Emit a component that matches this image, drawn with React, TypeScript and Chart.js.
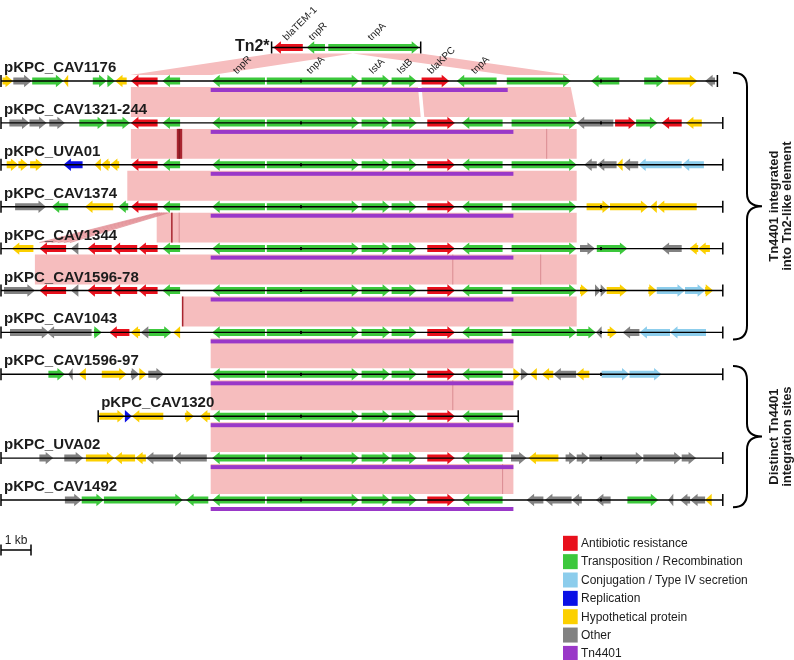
import React, { useEffect, useRef } from 'react';
import { Chart, registerables } from 'chart.js';

Chart.register(...registerables);

type Gene = [number, number, number, string]; // start kb, end kb, strand, category

// ---------- tracks ----------
const trackNames = [
  'Tn2*', 'pKPC_CAV1176', 'pKPC_CAV1321-244', 'pKPC_UVA01', 'pKPC_CAV1374', 'pKPC_CAV1344',
  'pKPC_CAV1596-78', 'pKPC_CAV1043', 'pKPC_CAV1596-97', 'pKPC_CAV1320', 'pKPC_UVA02', 'pKPC_CAV1492',
];
const trackRows = [-0.8, 0, 1, 2, 3, 4, 5, 6, 7, 8, 9, 10];
const trackStarts = [9.02, 0, 0, 0, 0, 0, 0, 0, 0, 3.24, 0, 0];
const trackEnds = [13.99, 23.88, 24.06, 24.06, 24.06, 24.06, 24.06, 24.06, 24.06, 17.24, 24.06, 24.06];
const tn4401Starts = [NaN, 6.99, 6.99, 6.99, 6.99, 6.99, 6.99, 6.99, 6.99, 6.99, 6.99, 6.99];
const tn4401Ends = [NaN, 16.89, 17.08, 17.08, 17.08, 17.08, 17.08, 17.08, 17.08, 17.08, 17.08, 17.08];

// ---------- genes ----------
const coreGenes: Gene[] = [
  [7.04, 8.80, -1, 'T'], [8.86, 11.94, 1, 'T'], [12.02, 12.97, 1, 'T'], [13.02, 13.86, 1, 'T'],
  [14.21, 15.13, 1, 'R'], [15.36, 16.72, -1, 'T'],
];
const tn2TailGene: Gene = [17.02, 19.19, 1, 'T'];

const genesTn2: Gene[] = [[9.08, 10.06, -1, 'R'], [10.19, 10.80, -1, 'T'], [10.91, 13.94, 1, 'T']];
const genesCAV1176: Gene[] = [
  [0.05, 0.40, 1, 'H'], [0.41, 1.02, 1, 'O'], [1.04, 2.08, 1, 'T'], [2.08, 2.24, -1, 'H'],
  [3.06, 3.52, 1, 'T'], [3.54, 3.80, 1, 'T'], [3.80, 4.19, -1, 'H'], [4.33, 5.22, -1, 'R'], [5.38, 5.97, -1, 'T'],
  [7.04, 8.80, -1, 'T'], [8.86, 11.94, 1, 'T'], [12.02, 12.97, 1, 'T'], [13.02, 13.86, 1, 'T'],
  [14.02, 14.94, 1, 'R'], [15.19, 16.52, -1, 'T'], [16.86, 18.99, 1, 'T'],
  [19.67, 20.61, -1, 'T'], [21.44, 22.10, 1, 'T'], [22.24, 23.21, 1, 'H'], [23.47, 23.80, -1, 'O'],
];
const genesCAV1321: Gene[] = [
  [0.28, 0.95, 1, 'O'], [0.95, 1.52, 1, 'O'], [1.61, 2.13, 1, 'O'], [2.61, 3.47, 1, 'T'], [3.52, 4.30, 1, 'T'],
  [4.33, 5.22, -1, 'R'], [5.38, 5.97, -1, 'T'], ...coreGenes, tn2TailGene,
  [19.19, 20.41, -1, 'O'], [20.47, 21.17, 1, 'R'], [21.17, 21.88, 1, 'T'], [22.02, 22.69, -1, 'R'], [22.83, 23.36, -1, 'H'],
];
const genesUVA01: Gene[] = [
  [0.19, 0.58, 1, 'H'], [0.58, 0.91, 1, 'H'], [0.97, 1.41, 1, 'H'], [2.08, 2.72, -1, 'P'],
  [3.11, 3.33, -1, 'H'], [3.33, 3.63, -1, 'H'], [3.63, 3.94, -1, 'H'],
  [4.33, 5.22, -1, 'R'], [5.38, 5.97, -1, 'T'], ...coreGenes, tn2TailGene,
  [19.44, 19.86, -1, 'O'], [19.86, 20.52, -1, 'O'], [20.52, 20.72, -1, 'H'], [20.72, 21.24, -1, 'O'],
  [21.24, 22.69, -1, 'C'], [22.69, 23.43, -1, 'C'],
];
const genesCAV1374: Gene[] = [
  [0.47, 1.50, 1, 'O'], [1.69, 2.24, -1, 'T'], [2.80, 3.74, -1, 'H'], [3.91, 4.24, -1, 'T'],
  [4.33, 5.22, -1, 'R'], [5.38, 5.97, -1, 'T'], ...coreGenes, tn2TailGene,
  [19.52, 20.30, 1, 'H'], [20.30, 21.58, 1, 'H'], [21.63, 21.86, -1, 'H'], [21.86, 23.19, -1, 'H'],
];
const genesCAV1344: Gene[] = [
  [0.36, 1.08, -1, 'H'], [1.28, 2.17, -1, 'R'], [2.33, 2.58, -1, 'O'], [2.88, 3.69, -1, 'R'],
  [3.72, 4.54, -1, 'R'], [4.58, 5.22, -1, 'R'], [5.38, 5.97, -1, 'T'], ...coreGenes, tn2TailGene,
  [19.30, 19.80, 1, 'O'], [19.86, 20.88, 1, 'T'], [22.02, 22.69, -1, 'O'], [22.94, 23.24, -1, 'H'], [23.24, 23.63, -1, 'H'],
];
const genesCAV1596_78: Gene[] = [
  [0.10, 1.13, 1, 'O'], [1.28, 2.17, -1, 'R'], [2.33, 2.58, -1, 'O'], [2.88, 3.69, -1, 'R'],
  [3.72, 4.54, -1, 'R'], [4.58, 5.22, -1, 'R'], [5.38, 5.97, -1, 'T'], ...coreGenes, tn2TailGene,
  [19.30, 19.58, 1, 'H'], [19.80, 19.99, 1, 'O'], [19.99, 20.19, 1, 'O'], [20.19, 20.88, 1, 'H'],
  [21.58, 21.86, 1, 'H'], [21.86, 22.80, 1, 'C'], [22.80, 23.47, 1, 'C'], [23.47, 23.74, 1, 'H'],
];
const genesCAV1043: Gene[] = [
  [0.30, 1.61, 1, 'O'], [1.52, 3.02, -1, 'O'], [3.10, 3.36, 1, 'T'], [3.61, 4.28, -1, 'R'],
  [4.32, 4.63, -1, 'H'], [4.66, 4.93, -1, 'O'], [4.93, 5.69, 1, 'T'], [5.74, 5.97, -1, 'H'], ...coreGenes, tn2TailGene,
  [19.19, 19.83, 1, 'T'], [19.83, 20.02, -1, 'O'], [20.22, 20.54, 1, 'H'], [20.72, 21.28, -1, 'O'],
  [21.28, 22.30, -1, 'C'], [22.30, 23.50, -1, 'C'],
];
const genesCAV1596_97: Gene[] = [
  [1.58, 2.13, 1, 'T'], [2.24, 2.39, -1, 'O'], [2.58, 2.83, -1, 'H'], [3.36, 4.19, 1, 'H'],
  [4.33, 4.61, 1, 'O'], [4.61, 4.86, 1, 'H'], [4.91, 5.43, 1, 'O'], ...coreGenes,
  [17.08, 17.33, 1, 'H'], [17.33, 17.58, 1, 'O'], [17.63, 17.86, -1, 'H'], [18.02, 18.41, -1, 'H'],
  [18.41, 19.17, -1, 'O'], [19.17, 19.61, -1, 'H'], [20.02, 20.95, 1, 'C'], [20.95, 22.02, 1, 'C'],
];
const genesCAV1320: Gene[] = [
  [3.28, 4.13, 1, 'H'], [4.13, 4.36, 1, 'P'], [4.36, 5.41, -1, 'H'], [6.13, 6.43, 1, 'H'], [6.63, 6.97, -1, 'H'],
  ...coreGenes,
];
const genesUVA02: Gene[] = [
  [1.28, 1.74, 1, 'O'], [2.11, 2.74, 1, 'O'], [2.83, 3.78, 1, 'H'], [3.78, 4.47, -1, 'H'], [4.47, 4.83, -1, 'H'],
  [4.83, 5.74, -1, 'O'], [5.74, 6.86, -1, 'O'], ...coreGenes,
  [17.00, 17.52, 1, 'O'], [17.58, 18.58, -1, 'H'], [18.82, 19.19, 1, 'O'], [19.19, 19.61, 1, 'O'],
  [19.61, 21.41, 1, 'O'], [21.41, 22.69, 1, 'O'], [22.69, 23.17, 1, 'O'],
];
const genesCAV1492: Gene[] = [
  [2.13, 2.69, 1, 'O'], [2.69, 3.43, 1, 'T'], [3.43, 6.06, 1, 'T'], [6.17, 6.91, -1, 'T'], ...coreGenes,
  [17.52, 18.08, -1, 'O'], [18.13, 19.02, -1, 'O'], [19.02, 19.36, -1, 'O'], [19.83, 20.32, -1, 'O'],
  [20.88, 21.91, 1, 'T'], [22.24, 22.41, -1, 'O'], [22.63, 22.97, -1, 'O'], [22.97, 23.47, -1, 'O'], [23.47, 23.69, -1, 'H'],
];
const trackGenes: Gene[][] = [
  genesTn2, genesCAV1176, genesCAV1321, genesUVA01, genesCAV1374, genesCAV1344,
  genesCAV1596_78, genesCAV1043, genesCAV1596_97, genesCAV1320, genesUVA02, genesCAV1492,
];

// ---------- gene name labels (gene centre kb) ----------
const tn2LabelNames = ['blaTEM-1', 'tnpR', 'tnpA'];
const tn2LabelKb = [9.59, 10.45, 12.42];
const cav1176LabelNames = ['tnpR', 'tnpA', 'IstA', 'IstB', 'blaKPC', 'tnpA'];
const cav1176LabelKb = [7.93, 10.38, 12.46, 13.39, 14.42, 15.87];

// ---------- BLAST similarity links: [upper track, lower track, upperStart, upperEnd, lowerStart, lowerEnd] ----------
const links: number[][] = [
  [0, 1, 9.07, 11.73, 4.30, 7.03],
  [0, 1, 11.73, 13.99, 16.86, 18.99],
  [1, 2, 4.33, 13.90, 4.33, 13.99],
  [1, 2, 14.02, 18.99, 14.11, 19.19],
  [2, 3, 4.33, 19.19, 4.33, 19.19],
  [3, 4, 4.21, 19.19, 4.21, 19.19],
  [4, 5, 5.19, 19.19, 5.19, 19.19],
  [5, 6, 1.13, 19.19, 1.13, 19.19],
  [6, 7, 6.03, 19.19, 6.03, 19.19],
  [7, 8, 6.99, 17.08, 6.99, 17.08],
  [8, 9, 6.99, 17.08, 6.99, 17.08],
  [9, 10, 6.99, 17.08, 6.99, 17.08],
  [10, 11, 6.99, 17.08, 6.99, 17.08],
];
// inverted/partial link (CAV1374 -> CAV1344)
const slantLinks: number[][] = [[4, 5, 5.22, 5.60, 1.28, 2.30]];
// lower-identity marks inside links: [upper track, startKb, endKb, kind 1=dark 0=thin]
const identityMarks: number[][] = [
  [2, 5.86, 6.04, 1], [2, 18.19, 18.19, 0],
  [4, 5.67, 5.72, 1], [4, 5.94, 5.94, 0],
  [5, 15.06, 15.06, 0], [5, 17.99, 17.99, 0],
  [6, 6.03, 6.05, 1],
  [8, 15.06, 15.06, 0],
  [10, 16.72, 16.72, 0],
];

// ---------- groups (braces) ----------
const groupLabels = [['Tn4401 integrated', 'into Tn2-like element'], ['Distinct Tn4401', 'integration sites']];
const groupFirst = [1, 8];
const groupLast = [7, 11];

// ---------- legend ----------
const legendKeys = ['R', 'T', 'C', 'P', 'H', 'O', 'X'];
const legendLabels = [
  'Antibiotic resistance', 'Transposition / Recombination', 'Conjugation / Type IV secretion',
  'Replication', 'Hypothetical protein', 'Other', 'Tn4401',
];
const COLORS: Record<string, string> = {
  R: '#e8101c', T: '#3cc83c', C: '#8ccdec', P: '#0a10e6', H: '#fcd000', O: '#828282', X: '#9a38c8',
};
const PINK = '#f6bdbe';
const FONT = "'Liberation Sans', Arial, Helvetica, sans-serif";
const kbMarks = [10, 20];
const scaleBarKb = 1;

function drawGene(ctx: CanvasRenderingContext2D, xa: number, xb: number, yc: number, strand: number, color: string) {
  const x1 = Math.min(xa, xb);
  const x2 = Math.max(xa, xb);
  const w = x2 - x1;
  const hl = Math.min(7.5, w);
  const bh = 3.5;
  const hh = 6.2;
  ctx.fillStyle = color;
  ctx.beginPath();
  if (strand > 0) {
    ctx.moveTo(x1, yc - bh);
    ctx.lineTo(x2 - hl, yc - bh);
    ctx.lineTo(x2 - hl, yc - hh);
    ctx.lineTo(x2, yc);
    ctx.lineTo(x2 - hl, yc + hh);
    ctx.lineTo(x2 - hl, yc + bh);
    ctx.lineTo(x1, yc + bh);
  } else {
    ctx.moveTo(x2, yc - bh);
    ctx.lineTo(x1 + hl, yc - bh);
    ctx.lineTo(x1 + hl, yc - hh);
    ctx.lineTo(x1, yc);
    ctx.lineTo(x1 + hl, yc + hh);
    ctx.lineTo(x1 + hl, yc + bh);
    ctx.lineTo(x2, yc + bh);
  }
  ctx.closePath();
  ctx.fill();
}

const diagramPlugin = {
  id: 'diagram',
  beforeDatasetsDraw(chart: any) {
    const { ctx, scales } = chart;
    const X = (v: number) => scales.x.getPixelForValue(v);
    const Y = (r: number) => scales.y.getPixelForValue(r);
    ctx.save();
    // similarity links
    links.forEach(([a, b, t1, t2, b1, b2]) => {
      const ya = Y(trackRows[a]) + 6;
      const yb = Y(trackRows[b]) - 6;
      ctx.fillStyle = PINK;
      ctx.beginPath();
      ctx.moveTo(X(t1), ya);
      ctx.lineTo(X(t2), ya);
      ctx.lineTo(X(b2), yb);
      ctx.lineTo(X(b1), yb);
      ctx.closePath();
      ctx.fill();
    });
    slantLinks.forEach(([a, b, t1, t2, b1, b2]) => {
      const ya = Y(trackRows[a]) + 6;
      const yb = Y(trackRows[b]) - 6;
      ctx.fillStyle = 'rgba(244,180,182,0.85)';
      ctx.beginPath();
      ctx.moveTo(X(t1), ya);
      ctx.lineTo(X(t2), ya);
      ctx.lineTo(X(b2), yb);
      ctx.lineTo(X(b1), yb);
      ctx.closePath();
      ctx.fill();
      ctx.strokeStyle = 'rgba(214,120,130,0.8)';
      ctx.lineWidth = 0.7;
      for (let k = 0; k <= 5; k++) {
        const f = k / 5;
        ctx.beginPath();
        ctx.moveTo(X(t1 + (t2 - t1) * f), ya);
        ctx.lineTo(X(b1 + (b2 - b1) * f), yb);
        ctx.stroke();
      }
    });
    identityMarks.forEach(([a, s, e, kind]) => {
      const ya = Y(trackRows[a]) + 6;
      const yb = Y(trackRows[a + 1]) - 6;
      if (kind === 1) {
        const x1 = X(s);
        const w = Math.max(1.5, X(e) - x1);
        ctx.fillStyle = '#a8252f';
        ctx.fillRect(x1, ya, w, yb - ya);
        if (w > 3) {
          ctx.fillStyle = '#7a141c';
          ctx.fillRect(x1 + w * 0.35, ya, 1, yb - ya);
        }
      } else {
        ctx.strokeStyle = '#d7868c';
        ctx.lineWidth = 0.9;
        ctx.beginPath();
        ctx.moveTo(X(s), ya);
        ctx.lineTo(X(s), yb);
        ctx.stroke();
      }
    });
    // genes
    trackGenes.forEach((genes, i) => {
      const yc = Y(trackRows[i]);
      genes.forEach(([s, e, strand, cat]) => drawGene(ctx, X(s), X(e), yc, strand, COLORS[cat]));
    });
    ctx.restore();
  },
  afterDatasetsDraw(chart: any) {
    const { ctx, scales } = chart;
    const X = (v: number) => scales.x.getPixelForValue(v);
    const Y = (r: number) => scales.y.getPixelForValue(r);
    ctx.save();
    // end ticks + kb marks
    ctx.strokeStyle = '#000';
    ctx.lineWidth = 1.5;
    trackNames.forEach((_, i) => {
      const y = Y(trackRows[i]);
      [trackStarts[i], trackEnds[i]].forEach((v) => {
        ctx.beginPath();
        ctx.moveTo(X(v), y - 6);
        ctx.lineTo(X(v), y + 6);
        ctx.stroke();
      });
      if (i > 0) {
        kbMarks.forEach((m) => {
          if (m > trackStarts[i] && m < trackEnds[i]) {
            ctx.fillStyle = '#000';
            ctx.fillRect(X(m) - 1, y - 1.5, 2, 3);
          }
        });
      }
    });
    // Tn4401 bars
    ctx.fillStyle = COLORS.X;
    trackNames.forEach((_, i) => {
      if (isNaN(tn4401Starts[i])) return;
      const y = Y(trackRows[i]);
      ctx.fillRect(X(tn4401Starts[i]), y + 7, X(tn4401Ends[i]) - X(tn4401Starts[i]), 4);
    });
    // track labels
    ctx.fillStyle = '#1c1c1c';
    ctx.textBaseline = 'alphabetic';
    trackNames.forEach((name, i) => {
      const y = Y(trackRows[i]);
      if (i === 0) {
        ctx.font = `bold 16px ${FONT}`;
        ctx.textAlign = 'right';
        ctx.fillText(name, X(trackStarts[i]) - 2, y + 4);
      } else {
        ctx.font = `bold 15px ${FONT}`;
        ctx.textAlign = 'left';
        ctx.fillText(name, X(trackStarts[i]) + 3, y - 9);
      }
    });
    // rotated gene names
    ctx.font = `10px ${FONT}`;
    ctx.textAlign = 'left';
    const drawRot = (names: string[], kbs: number[], row: number) => {
      const y = Y(row);
      names.forEach((n, k) => {
        ctx.save();
        ctx.translate(X(kbs[k]) - 2, y - 6.5);
        ctx.rotate(-Math.PI / 4);
        ctx.fillText(n, 0, 0);
        ctx.restore();
      });
    };
    drawRot(tn2LabelNames, tn2LabelKb, trackRows[0]);
    drawRot(cav1176LabelNames, cav1176LabelKb, trackRows[1]);
    // braces
    ctx.strokeStyle = '#000';
    ctx.lineWidth = 2;
    groupLabels.forEach((lines, g) => {
      const y0 = Y(trackRows[groupFirst[g]]) - 8.3;
      const y1 = Y(trackRows[groupLast[g]]) + 7.2;
      const ym = (y0 + y1) / 2;
      const xa = 733;
      const xs = 747;
      const xt = 762;
      ctx.beginPath();
      ctx.moveTo(xa, y0);
      ctx.quadraticCurveTo(xs, y0, xs, y0 + 14);
      ctx.lineTo(xs, ym - 13);
      ctx.quadraticCurveTo(xs, ym, xt, ym);
      ctx.quadraticCurveTo(xs, ym, xs, ym + 13);
      ctx.lineTo(xs, y1 - 14);
      ctx.quadraticCurveTo(xs, y1, xa, y1);
      ctx.stroke();
      ctx.fillStyle = '#1c1c1c';
      ctx.font = `bold 13px ${FONT}`;
      ctx.textAlign = 'center';
      ctx.textBaseline = 'middle';
      lines.forEach((t, k) => {
        ctx.save();
        ctx.translate(774.5 + k * 12.5, ym);
        ctx.rotate(-Math.PI / 2);
        ctx.fillText(t, 0, 0);
        ctx.restore();
      });
    });
    // legend
    ctx.font = `12px ${FONT}`;
    ctx.textAlign = 'left';
    ctx.textBaseline = 'middle';
    legendKeys.forEach((k, i) => {
      const y = 543.3 + i * 18.35;
      ctx.fillStyle = COLORS[k];
      ctx.fillRect(563, y - 7.5, 14.7, 15);
      ctx.fillStyle = '#1c1c1c';
      ctx.fillText(legendLabels[i], 581, y + 0.5);
    });
    // scale bar
    const sy = 550;
    ctx.strokeStyle = '#000';
    ctx.lineWidth = 1.5;
    ctx.beginPath();
    ctx.moveTo(X(0), sy);
    ctx.lineTo(X(scaleBarKb), sy);
    ctx.moveTo(X(0), sy - 5.5);
    ctx.lineTo(X(0), sy + 5.5);
    ctx.moveTo(X(scaleBarKb), sy - 5.5);
    ctx.lineTo(X(scaleBarKb), sy + 5.5);
    ctx.stroke();
    ctx.fillStyle = '#1c1c1c';
    ctx.font = `12px ${FONT}`;
    ctx.textAlign = 'center';
    ctx.textBaseline = 'alphabetic';
    ctx.fillText(`${scaleBarKb} kb`, X(scaleBarKb / 2), sy - 6.5);
    ctx.restore();
  },
};

const X_MIN = -1 / 30;
const X_MAX = 793 / 30;
const Y_MIN = -81 / 41.9;
const Y_MAX = (660 - 81) / 41.9;

export default function App() {
  const ref = useRef<HTMLCanvasElement>(null);
  useEffect(() => {
    document.body.style.margin = '0';
    const canvas = ref.current;
    if (!canvas) return;
    const chart = new Chart(canvas, {
      type: 'line',
      data: {
        datasets: trackNames.map((name, i) => ({
          label: name,
          data: [
            { x: trackStarts[i], y: trackRows[i] },
            { x: trackEnds[i], y: trackRows[i] },
          ],
          borderColor: '#000',
          borderWidth: 1.4,
          pointRadius: 0,
          fill: false,
          tension: 0,
        })),
      },
      options: {
        responsive: false,
        animation: false,
        devicePixelRatio: 1,
        events: [],
        layout: { padding: 0 },
        scales: {
          x: { type: 'linear', min: X_MIN, max: X_MAX, display: false },
          y: { type: 'linear', min: Y_MIN, max: Y_MAX, reverse: true, display: false },
        },
        plugins: { legend: { display: false }, tooltip: { enabled: false } },
      },
      plugins: [diagramPlugin],
    } as any);
    return () => chart.destroy();
  }, []);
  return <canvas ref={ref} width={794} height={660} style={{ display: 'block', width: 794, height: 660 }} />;
}
